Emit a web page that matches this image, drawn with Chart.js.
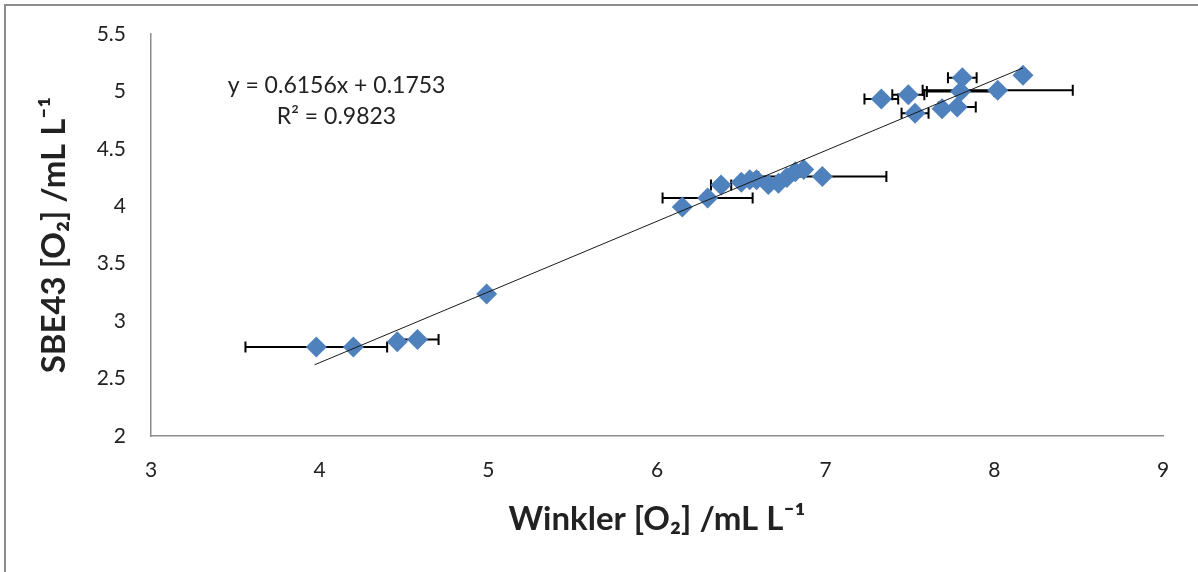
<!DOCTYPE html>
<html>
<head>
<meta charset="utf-8">
<script src="https://cdn.jsdelivr.net/npm/chart.js@4"></script>
<style>
  html, body { margin: 0; padding: 0; background: #fff; }
  #wrap { position: relative; width: 1198px; height: 572px; overflow: hidden; }
  #frame { position: absolute; left: 4px; top: 4px; width: 1192px; height: 580px;
           border-left: 2px solid #8c8c8c; border-top: 2px solid #8c8c8c; pointer-events: none; }
</style>
</head>
<body>
<div id="wrap">
  <canvas id="c" width="1198" height="572"></canvas>
  <div id="frame"></div>
</div>
<script>
// Winkler [O2] values (x)
const winkler = [3.98, 4.20, 4.46, 4.58, 4.99,
                 6.15, 6.30, 6.38, 6.50, 6.55, 6.59, 6.66, 6.72, 6.77, 6.82, 6.87, 6.98,
                 7.33, 7.49, 7.53, 7.69, 7.78, 7.81, 7.80, 8.02, 8.17];
// SBE43 [O2] values (y)
const sbe43 = [2.775, 2.775, 2.82, 2.84, 3.236,
               3.994, 4.072, 4.185, 4.21, 4.23, 4.23, 4.19, 4.20, 4.25, 4.30, 4.32, 4.26,
               4.935, 4.97, 4.81, 4.85, 4.865, 5.12, 5.00, 5.01, 5.14];
// horizontal error (± on Winkler)
const winklerErr = [0.42, 0, 0, 0.125, 0,
                    0, 0.267, 0.06, 0, 0, 0, 0, 0, 0, 0, 0, 0.38,
                    0.10, 0.095, 0.08, 0, 0.11, 0.085, 0.2, 0.445, 0];
// trendline endpoints
const trendX = [3.97, 8.17];
const trendY = [2.62, 5.205];
// axis ticks
const xTicks = [3, 4, 5, 6, 7, 8, 9];
const yTicks = [2, 2.5, 3, 3.5, 4, 4.5, 5, 5.5];
// equation annotation
const eqLines = ['y = 0.6156x + 0.1753', 'R² = 0.9823'];
const eqX = 4.10;
const eqY = [5.047, 4.777];

const FONT = "Lato, 'Noto Sans', 'DejaVu Sans', sans-serif";

const points = winkler.map((x, i) => ({ x: x, y: sbe43[i] }));
const trend = trendX.map((x, i) => ({ x: x, y: trendY[i] }));

const errorBars = {
  id: 'errorBars',
  beforeDatasetsDraw(chart) {
    const ctx = chart.ctx;
    const xs = chart.scales.x, ys = chart.scales.y;
    ctx.save();
    ctx.strokeStyle = '#000';
    ctx.lineWidth = 2;
    winkler.forEach((x, i) => {
      const e = winklerErr[i];
      if (!e) return;
      const y = ys.getPixelForValue(sbe43[i]);
      const x1 = xs.getPixelForValue(x - e);
      const x2 = xs.getPixelForValue(x + e);
      ctx.beginPath();
      ctx.moveTo(x1, y); ctx.lineTo(x2, y);
      ctx.moveTo(x1, y - 5.5); ctx.lineTo(x1, y + 5.5);
      ctx.moveTo(x2, y - 5.5); ctx.lineTo(x2, y + 5.5);
      ctx.stroke();
    });
    ctx.restore();
  }
};

const equation = {
  id: 'equation',
  afterDatasetsDraw(chart) {
    const ctx = chart.ctx;
    const xs = chart.scales.x, ys = chart.scales.y;
    ctx.save();
    ctx.fillStyle = '#222';
    ctx.font = '23px ' + FONT;
    ctx.textAlign = 'center';
    ctx.textBaseline = 'middle';
    eqLines.forEach((t, i) => {
      ctx.fillText(t, xs.getPixelForValue(eqX), ys.getPixelForValue(eqY[i]));
    });
    ctx.restore();
  }
};

new Chart(document.getElementById('c'), {
  type: 'scatter',
  data: {
    datasets: [
      {
        type: 'line',
        label: 'Linear fit',
        data: trend,
        borderColor: '#1a1a1a',
        borderWidth: 1,
        pointRadius: 0,
        fill: false,
        order: 0
      },
      {
        label: 'SBE43 vs Winkler',
        data: points,
        pointStyle: 'rectRot',
        pointRadius: 10.5,
        pointHoverRadius: 10.5,
        backgroundColor: '#4f81bd',
        borderColor: '#4f81bd',
        borderWidth: 0,
        order: 1
      }
    ]
  },
  options: {
    responsive: false,
    animation: false,
    layout: { padding: { top: 34, right: 35, left: 0, bottom: 0 } },
    plugins: { legend: { display: false }, tooltip: { enabled: false } },
    scales: {
      x: {
        type: 'linear',
        min: 3, max: 9,
        afterBuildTicks(s) { s.ticks = xTicks.map(v => ({ value: v })); },
        afterFit(s) { s.height = 136; },
        grid: { display: false },
        border: { display: true, color: '#8c8c8c', width: 1.5 },
        ticks: { color: '#222', font: { family: FONT, size: 21 }, padding: 14,
                 callback: v => String(v) },
        title: {
          display: true,
          text: 'Winkler [O₂] /mL L⁻¹',
          color: '#222',
          font: { family: FONT, size: 33, weight: 'bold' },
          padding: { top: 0, bottom: 33 }
        }
      },
      y: {
        type: 'linear',
        min: 2, max: 5.5,
        afterBuildTicks(s) { s.ticks = yTicks.map(v => ({ value: v })); },
        afterFit(s) { s.width = 151; },
        grid: { display: false },
        border: { display: true, color: '#8c8c8c', width: 1.5 },
        ticks: { color: '#222', font: { family: FONT, size: 21 }, padding: 17,
                 callback: v => String(v) },
        title: {
          display: true,
          text: 'SBE43 [O₂] /mL L⁻¹',
          color: '#222',
          font: { family: FONT, size: 33, weight: 'bold' },
          padding: { top: 35, bottom: 0 }
        }
      }
    }
  },
  plugins: [errorBars, equation]
});
</script>
</body>
</html>
